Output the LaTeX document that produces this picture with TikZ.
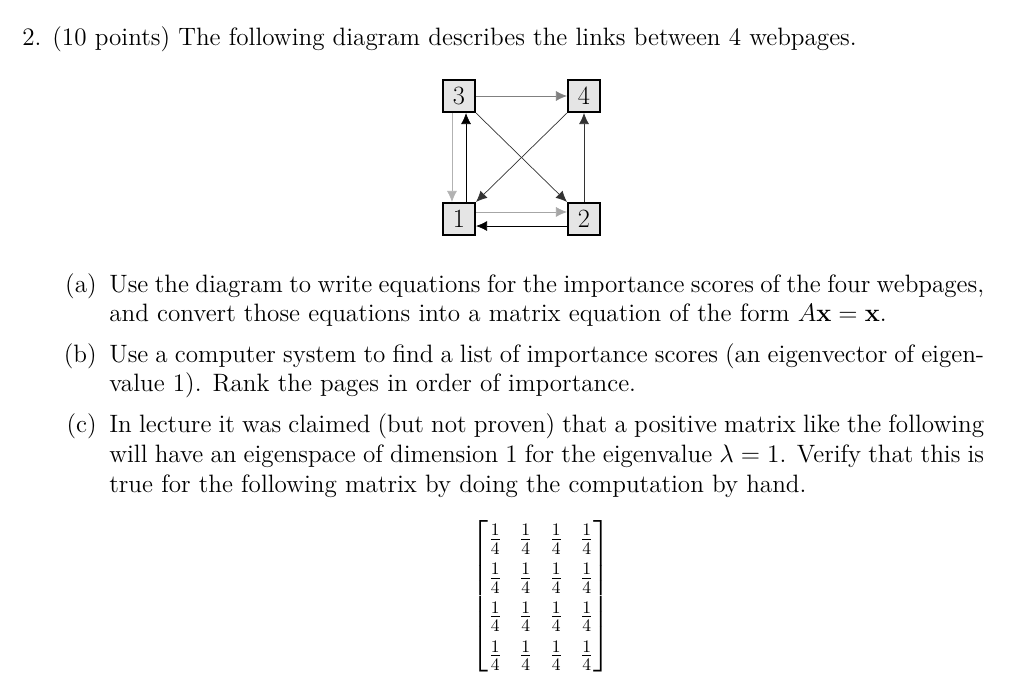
\documentclass[tikz,border=0pt]{standalone}
\usepackage{amsmath}
\usetikzlibrary{arrows.meta}
\begin{document}
\begin{tikzpicture}[x=0.02cm,y=-0.02cm,
  pg/.style={draw,very thick,fill=gray!20,minimum size=0.64cm,inner sep=0pt,font=\fontsize{15}{17}\selectfont},
  ar/.style={-{Latex[length=2.2mm,width=2mm]},thin},
  ln/.style={anchor=base west,inner sep=0pt,font=\fontsize{14.3}{17}\selectfont},
  lab/.style={anchor=base east,inner sep=0pt,font=\fontsize{14.3}{17}\selectfont}]
\useasboundingbox (0,0) rectangle (1024,686);
\node[ln] (t) at (22,46) {2. (10 points) The following diagram describes the links between 4 webpages.};
\node[pg] (n3) at (459,96) {3};
\node[pg] (n4) at (584,96) {4};
\node[pg] (n1) at (459,219) {1};
\node[pg] (n2) at (584,219) {2};
\draw[ar,gray] (n3) -- (n4);
\draw[ar,gray!60] ([xshift=-4pt]n3.south) -- ([xshift=-4pt]n1.north);
\draw[ar] ([xshift=4pt]n1.north) -- ([xshift=4pt]n3.south);
\draw[ar,gray!70] ([yshift=4pt]n1.east) -- ([yshift=4pt]n2.west);
\draw[ar] ([yshift=-4pt]n2.west) -- ([yshift=-4pt]n1.east);
\draw[ar,black!80] (n3.south east) -- (n2.north west);
\draw[ar,black!80] (n4.south west) -- (n1.north east);
\draw[ar,black!80] (n2) -- (n4);
\node[lab] (la) at (97,292) {(a)};
\node[ln] (a1) at (109,292) {\makebox[17.5cm][s]{Use the diagram to write equations for the importance scores of the four webpages,}};
\node[ln] (a2) at (109,321) {and convert those equations into a matrix equation of the form $A\mathbf{x}=\mathbf{x}$.};
\node[lab] (lb) at (97,362) {(b)};
\node[ln] (b1) at (109,362) {\makebox[17.5cm][s]{Use a computer system to find a list of importance scores (an eigenvector of eigen-}};
\node[ln] (b2) at (109,391) {value 1). Rank the pages in order of importance.};
\node[lab] (lc) at (97,432) {(c)};
\node[ln] (c1) at (109,432) {\makebox[17.5cm][s]{In lecture it was claimed (but not proven) that a positive matrix like the following}};
\node[ln] (c2) at (109,462) {\makebox[17.5cm][s]{will have an eigenspace of dimension 1 for the eigenvalue $\lambda=1$. Verify that this is}};
\node[ln] (c3) at (109,492) {true for the following matrix by doing the computation by hand.};
\node[inner sep=0pt,font=\fontsize{14.3}{17}\selectfont] (m) at (541,596) {$\renewcommand{\arraystretch}{1.3}\begin{bmatrix}
\frac14&\frac14&\frac14&\frac14\\
\frac14&\frac14&\frac14&\frac14\\
\frac14&\frac14&\frac14&\frac14\\
\frac14&\frac14&\frac14&\frac14\end{bmatrix}$};
\end{tikzpicture}
\end{document}
